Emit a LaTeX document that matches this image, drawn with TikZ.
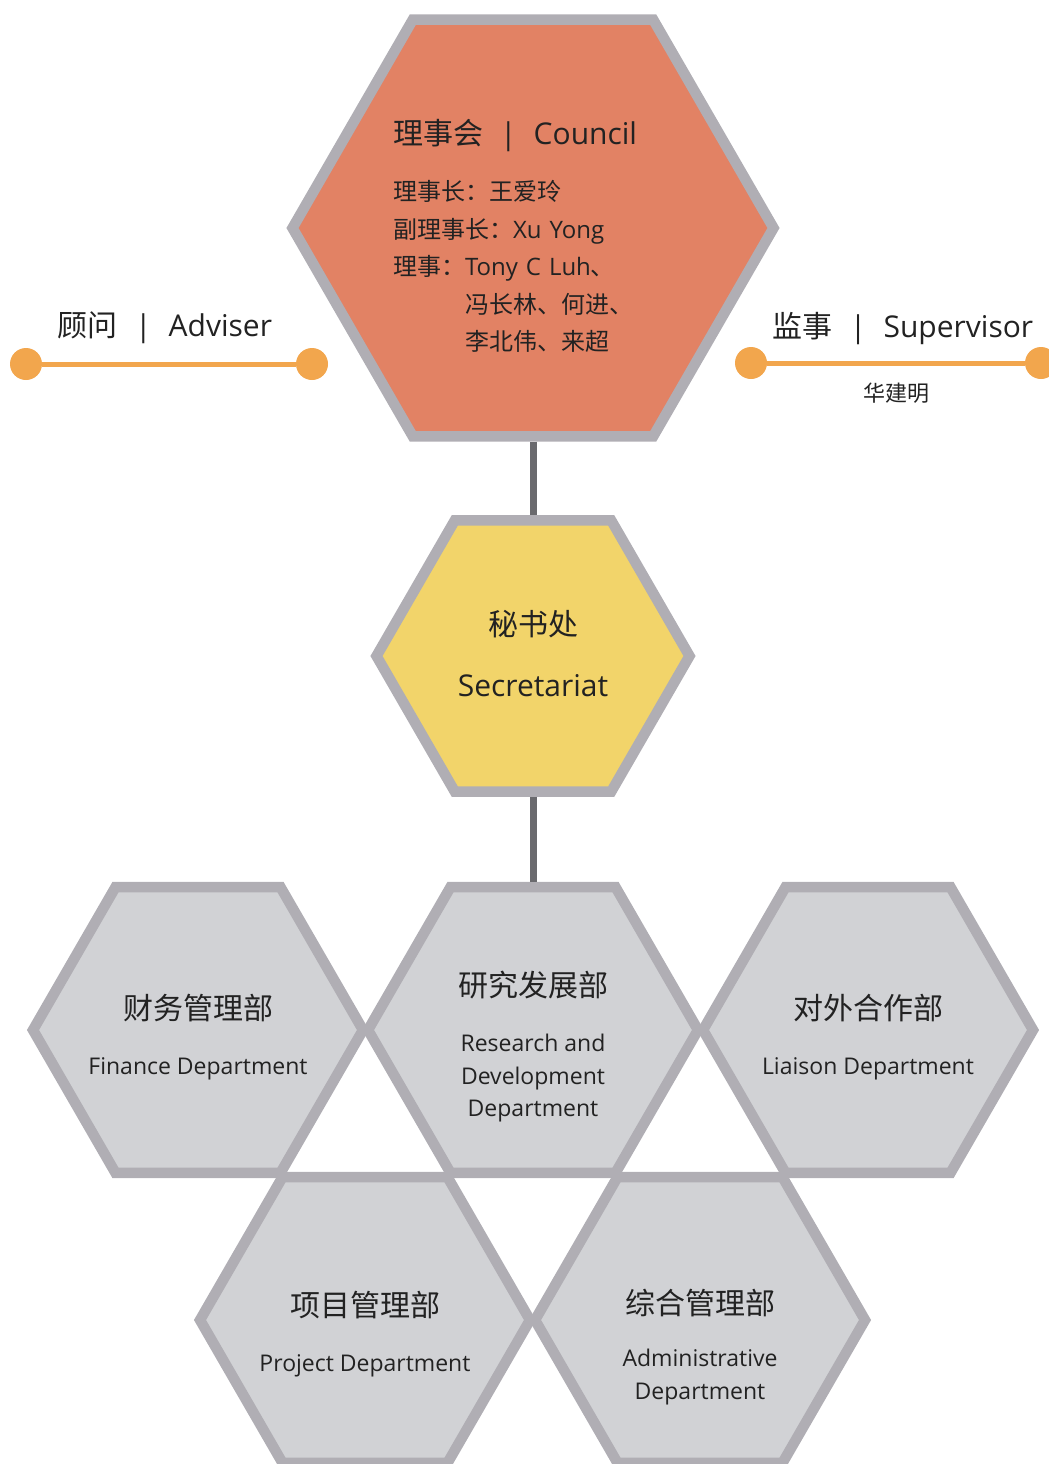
\documentclass[tikz,border=0pt]{standalone}
\usepackage{fontspec}
\setmainfont{Open Sans}
\newfontfamily\cjk{Noto Sans CJK SC}
\usetikzlibrary{positioning,shapes.geometric}
\definecolor{hex_border}{HTML}{B0AEB4}
\definecolor{council_orange}{HTML}{E28264}
\definecolor{sec_yellow}{HTML}{F2D46A}
\definecolor{dept_grey}{HTML}{D1D2D5}
\definecolor{stem_grey}{HTML}{6A6A6E}
\definecolor{line_orange}{HTML}{F2A64D}
\definecolor{text_dark}{HTML}{222222}
\tikzstyle{hexagon}     = [regular polygon, regular polygon sides=6, draw=hex_border, line width=10.5pt, inner sep=0pt]
\tikzstyle{council}     = [hexagon, fill=council_orange, minimum size=481pt]
\tikzstyle{secretariat} = [hexagon, fill=sec_yellow, minimum size=313pt]
\tikzstyle{department}  = [hexagon, fill=dept_grey, minimum size=330pt]
\tikzstyle{hex_text}    = [text=text_dark, align=center, font=\fontsize{23}{32.5}\selectfont]
\tikzstyle{council_text}= [hex_text, align=left, text width=280pt, inner sep=0pt, font=\fontsize{24}{37.5}\selectfont]
\tikzstyle{dot}         = [circle, fill=line_orange, minimum size=32pt, inner sep=0pt]
\tikzstyle{link}        = [draw=line_orange, line width=5pt]
\tikzstyle{stem}        = [draw=stem_grey, line width=7pt]
\tikzstyle{side_title}  = [text=text_dark, font=\fontsize{30}{36}\selectfont]
\tikzstyle{side_text}   = [text=text_dark, font=\fontsize{22}{26}\selectfont]
\newcommand{\hexTitle}[1]{{\fontsize{30}{36}\selectfont\cjk #1}}
\newcommand{\sep}{\hspace{0.57em}|\hspace{0.57em}}

\begin{document}
\begin{tikzpicture}[x=1pt, y=-1pt]
   \useasboundingbox (0,0) rectangle (1049,1464);

   % Council
   \node at (533, 228) [council, label={[council_text, yshift=-8pt]center:{
      {\fontsize{30}{36}\selectfont{\cjk 理事会}\sep Council}\\[18.5pt]
      {\cjk 理事长：王爱玲}\\
      {\cjk 副理事长：}Xu Yong\\
      {\cjk 理事：}Tony C Luh{\cjk 、}\\
      \phantom{{\cjk 理事：}}{\cjk 冯长林、何进、}\\
      \phantom{{\cjk 理事：}}{\cjk 李北伟、来超}}}] (council) {};

   % Adviser
   \node at (165, 328) [side_title] (adviser) {{\cjk 顾问}\sep Adviser};
   \node at (26, 364) [dot] (adviser left) {};
   \node at (312, 364) [dot] (adviser right) {};
   \path [link] (adviser left) -- (adviser right);

   % Supervisor
   \node at (903, 329) [side_title] (supervisor) {{\cjk 监事}\sep Supervisor};
   \node at (751, 363) [dot] (supervisor left) {};
   \node at (1041, 363) [dot] (supervisor right) {};
   \path [link] (supervisor left) -- (supervisor right);
   \node at (896, 393) [side_text] (supervisor name) {\cjk 华建明};

   % Secretariat
   \node at (533, 656) [secretariat, label={[hex_text, yshift=2pt, font=\fontsize{30}{61}\selectfont]center:{{\cjk 秘书处}\\Secretariat}}] (secretariat) {};
   \path [stem] (council.south) -- (secretariat.north);

   % Departments
   \node at (198, 1030) [department, label={[hex_text, yshift=-7pt]center:{\hexTitle{财务管理部}\\[22.5pt]Finance Department}}] (finance) {};
   \node at (533, 1030) [department, label={[hex_text, yshift=-17pt]center:{\hexTitle{研究发展部}\\[22.5pt]Research and\\Development\\Department}}] (research) {};
   \node at (868, 1030) [department, label={[hex_text, yshift=-7pt]center:{\hexTitle{对外合作部}\\[22.5pt]Liaison Department}}] (liaison) {};
   \node at (365, 1320) [department, label={[hex_text, yshift=-14pt]center:{\hexTitle{项目管理部}\\[22.5pt]Project Department}}] (project) {};
   \node at (700, 1320) [department, label={[hex_text, yshift=-27pt]center:{\hexTitle{综合管理部}\\[20pt]Administrative\\Department}}] (admin) {};
   \path [stem] (secretariat.south) -- (research.north);

\end{tikzpicture}
\end{document}
